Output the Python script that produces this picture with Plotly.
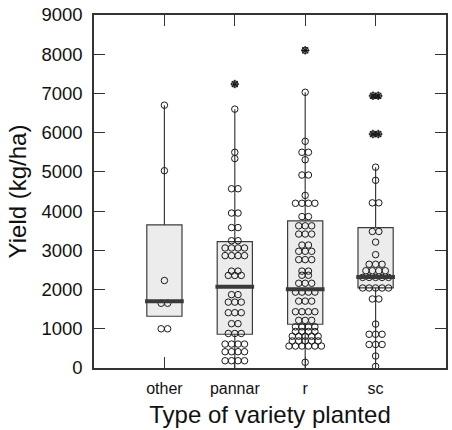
import plotly.graph_objects as go

# Variety groups and yields (kg/ha)
categories = ["other", "pannar", "r", "sc"]

other_yield = [6700, 5030, 2230, 1650, 1650, 1000, 1000]
pannar_yield = [6600, 5500, 5340, 4570, 4570, 3950, 3950, 3580, 3580, 3245, 3245,
                3060, 3060, 3060, 3060, 2865, 2865, 2865, 2865, 2470, 2470,
                2360, 2360, 2360, 1870, 1870, 1680, 1680, 1680, 1410, 1410, 1410,
                1130, 1130, 880, 880, 880, 610, 610, 610, 610, 415, 415, 415, 415,
                185, 185, 185, 185]
r_yield = [7030, 5780, 5500, 5500, 5310, 4920, 4920, 4400, 4200, 4200, 4200, 4200,
           3860, 3860, 3625, 3625, 3625, 3415, 3415, 3415, 3135, 3135,
           2975, 2975, 2975, 2763, 2763, 2763, 2470, 2470, 2365, 2365,
           2160, 2160, 2160, 1935, 1935, 1935, 1935, 1705, 1705, 1705,
           1435, 1435, 1435, 1435, 1215, 1215, 1215, 1050, 1050, 1050, 1050,
           930, 930, 930, 930, 810, 810, 810, 810, 810, 690, 690, 690, 690, 690,
           560, 560, 560, 560, 560, 560, 145]
sc_yield = [5120, 4785, 4210, 4210, 3480, 3480, 3210, 2890, 2645, 2645, 2645,
            2480, 2480, 2480, 2480, 2310, 2310, 2310, 2310, 2310,
            2040, 2040, 2040, 2040, 2040, 1760, 1760, 1120, 860, 860, 860,
            600, 600, 600, 305, 40]

# Outlying farms (drawn as starred points)
other_out = []
pannar_out = [7240]
r_out = [8100]
sc_out = [6940, 6940, 5965, 5965]

# Box summary statistics per variety
q1 = [1320, 860, 1115, 2045]
median = [1700, 2070, 2010, 2320]
q3 = [3650, 3220, 3750, 3580]
lower_fence = [1320, 0, 0, 20]
upper_fence = [6700, 6600, 7030, 5120]

yields = [other_yield, pannar_yield, r_yield, sc_yield]
outliers = [other_out, pannar_out, r_out, sc_out]

DOT_STEP = 0.092   # horizontal spacing between neighbouring dots (x units)
ROW_TOL = 40       # values this close share a row


def dot_rows(values, center, step=DOT_STEP):
    """Arrange values in centred rows so coincident yields sit side by side."""
    xs, ys = [], []
    rows = []
    for v in sorted(values, reverse=True):
        if rows and abs(rows[-1][0] - v) <= ROW_TOL:
            rows[-1].append(v)
        else:
            rows.append([v])
    for row in rows:
        n = len(row)
        for k, v in enumerate(row):
            xs.append(center + (k - (n - 1) / 2) * step)
            ys.append(v)
    return xs, ys


pos = list(range(len(categories)))
fig = go.Figure()

fig.add_trace(go.Box(
    x=pos, q1=q1, median=median, q3=q3,
    lowerfence=lower_fence, upperfence=upper_fence,
    width=0.5, whiskerwidth=0, boxpoints=False,
    fillcolor="#ececec", line=dict(color="#3c3c3c", width=1.2),
    showlegend=False, hoverinfo="skip",
))

dot_x, dot_y, out_x, out_y = [], [], [], []
for i, vals in enumerate(yields):
    xs, ys = dot_rows(vals, i)
    dot_x += xs
    dot_y += ys
    xs, ys = dot_rows(outliers[i], i, step=0.075)
    out_x += xs
    out_y += ys

fig.add_trace(go.Scatter(
    x=dot_x, y=dot_y, mode="markers",
    marker=dict(symbol="circle-open", size=6.5, color="#1a1a1a", line=dict(width=1)),
    showlegend=False, hoverinfo="y",
))
fig.add_trace(go.Scatter(
    x=out_x, y=out_y, mode="markers",
    marker=dict(symbol="circle-open", size=6.5, color="#1a1a1a", line=dict(width=1)),
    showlegend=False, hoverinfo="y",
))
fig.add_trace(go.Scatter(
    x=out_x, y=out_y, mode="markers",
    marker=dict(symbol="asterisk-open", size=7, color="#1a1a1a", line=dict(width=1.2)),
    showlegend=False, hoverinfo="skip",
))

# Heavy median bars
mx, my = [], []
for i, m in enumerate(median):
    mx += [i - 0.275, i + 0.275, None]
    my += [m, m, None]
fig.add_trace(go.Scatter(
    x=mx, y=my, mode="lines", line=dict(color="#3a3a3a", width=4),
    showlegend=False, hoverinfo="skip",
))

axis_common = dict(
    showline=True, linecolor="#333333", linewidth=1.5, mirror="ticks",
    ticks="inside", ticklen=11, tickcolor="#333333", tickwidth=1.2,
    showgrid=False, zeroline=False,
)

fig.update_layout(
    width=452, height=430,
    margin=dict(l=94, r=4, t=13, b=62),
    paper_bgcolor="white", plot_bgcolor="white",
    font=dict(family="Liberation Sans, Arial, sans-serif", color="#111111"),
    xaxis=dict(
        range=[-1, 4], tickvals=pos, ticktext=categories,
        tickfont=dict(size=16), ticklabelstandoff=5,
        title=dict(text="Type of variety planted", font=dict(size=24), standoff=10),
        **axis_common,
    ),
    yaxis=dict(
        range=[0, 9000], tickvals=list(range(0, 9001, 1000)),
        tickfont=dict(size=18.5), ticklabelstandoff=6,
        title=dict(text="Yield (kg/ha)", font=dict(size=24), standoff=8),
        **axis_common,
    ),
)

fig.write_html("out.html")
